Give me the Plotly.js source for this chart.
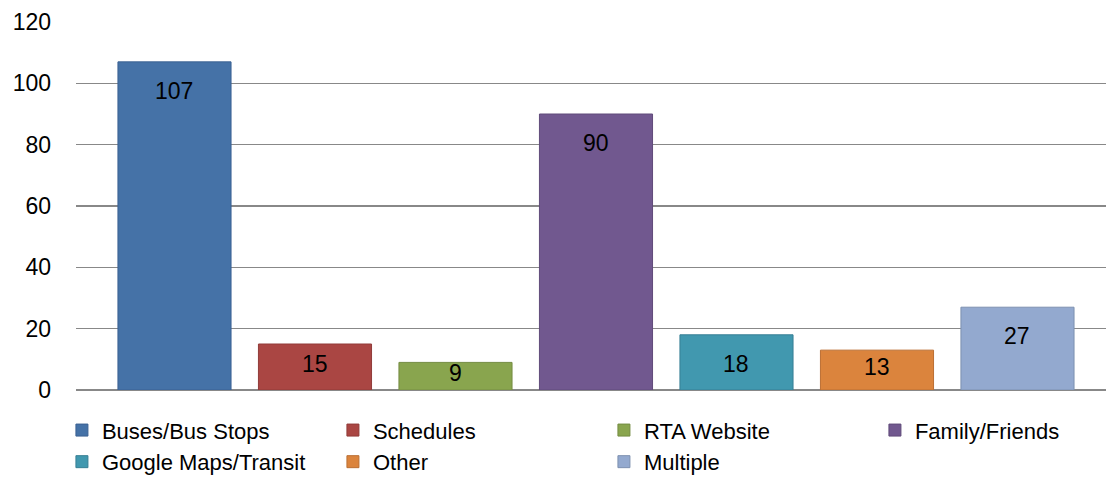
<!DOCTYPE html>
<html>
<head>
<meta charset="utf-8">
<script src="https://cdn.plot.ly/plotly-3.0.1.min.js"></script>
<style>html,body{margin:0;padding:0;background:#fff;}#chart{width:1106px;height:477px;}</style>
</head>
<body>
<div id="chart"></div>
<script>
const categories = ["Buses/Bus Stops", "Schedules", "RTA Website", "Family/Friends", "Google Maps/Transit", "Other", "Multiple"];
const values = [107, 15, 9, 90, 18, 13, 27];
const fillColors = ["#4572A7", "#AA4643", "#89A54E", "#71588F", "#4198AF", "#DB843D", "#93A9CF"];
const lineColors = ["#3B6192", "#913B39", "#748C42", "#604B7A", "#377F94", "#BB6F33", "#7D90B0"];
const legendGroups = ["legend", "legend", "legend", "legend2", "legend", "legend", "legend"];
const yTicks = [0, 20, 40, 60, 80, 100, 120];

const FONT = "Liberation Sans, Arial, sans-serif";
const PX_PER_UNIT = 368.6 / 120;

const traces = categories.map((name, i) => ({
  type: "bar",
  name: name,
  x: [i],
  y: [values[i]],
  width: 0.805,
  legend: legendGroups[i],
  marker: {color: fillColors[i], line: {color: lineColors[i], width: 1}},
  hoverinfo: "name+y"
}));

const annotations = values.map((v, i) => {
  const h = v * PX_PER_UNIT;
  return {
    x: i, y: v, xref: "x", yref: "y",
    text: String(v), showarrow: false,
    yanchor: "middle",
    yshift: -(h >= 55 ? 29 : h / 2 - 3),
    font: {family: FONT, size: 23, color: "#000"}
  };
});

const legendBase = {
  orientation: "h",
  xref: "container", yref: "container",
  xanchor: "left", y: 0.142, yanchor: "top",
  entrywidth: 226, entrywidthmode: "pixels",
  font: {family: FONT, size: 22, color: "#000"},
  traceorder: "normal", bgcolor: "rgba(0,0,0,0)"
};

const layout = {
  width: 1106, height: 477,
  margin: {l: 76, r: 0, t: 22, b: 87},
  paper_bgcolor: "#fff", plot_bgcolor: "#fff",
  barmode: "overlay",
  showlegend: true,
  font: {family: FONT, size: 23, color: "#000"},
  xaxis: {range: [-0.701, 6.63], showticklabels: false, showgrid: false, zeroline: false, fixedrange: true},
  yaxis: {
    range: [0, 120], tickvals: yTicks, ticktext: yTicks.map(String),
    showgrid: true, gridcolor: "#888888", gridwidth: 1.3,
    zeroline: true, zerolinecolor: "#888888", zerolinewidth: 2,
    showline: false, ticks: "", ticklabelstandoff: 24,
    tickfont: {family: FONT, size: 23, color: "#000"}
  },
  legend: Object.assign({}, legendBase, {x: 0.056}),
  legend2: Object.assign({}, legendBase, {x: 0.056 + 3 * 271 / 1106, entrywidth: 180}),
  annotations: annotations
};

Plotly.newPlot("chart", traces, layout, {displayModeBar: false, staticPlot: true});
</script>
</body>
</html>
